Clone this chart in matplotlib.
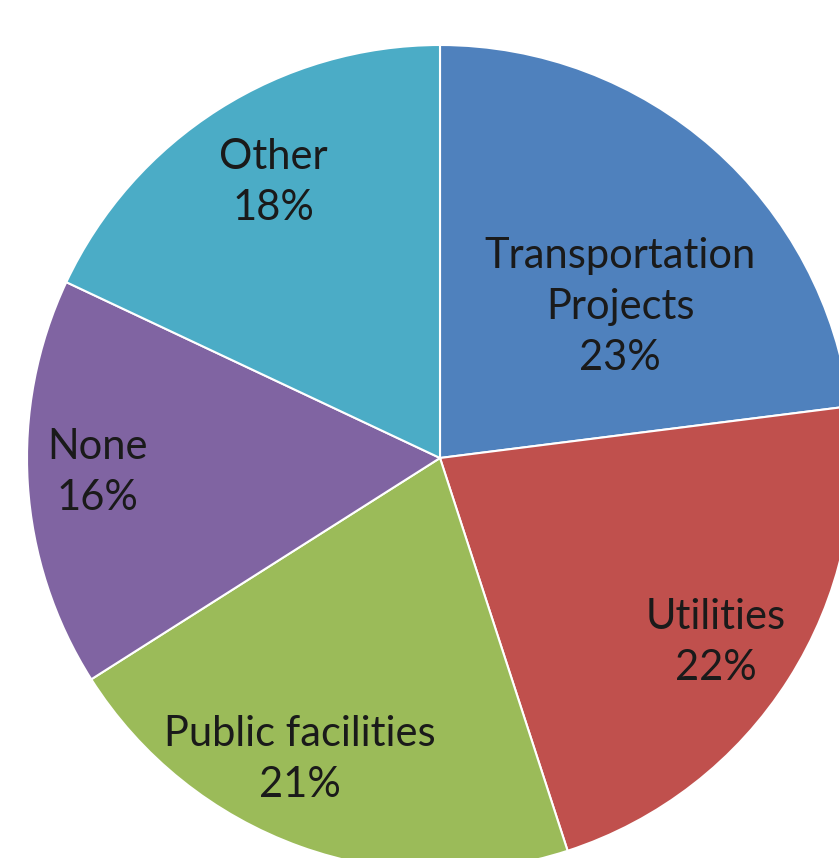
import matplotlib.pyplot as plt

categories = ["Transportation\nProjects", "Utilities", "Public facilities", "None", "Other"]
shares = [23, 22, 21, 16, 18]
colors = ["#4F81BD", "#C0504D", "#9BBB59", "#8064A2", "#4BACC6"]

# label centres, in pie radius units (Excel "best fit" placement)
label_pos = [(0.436, 0.366), (0.668, -0.446), (-0.339, -0.731), (-0.830, -0.034), (-0.404, 0.668)]

W, H = 839, 858
cx, cy, r = 440, 458, 413

fig = plt.figure(figsize=(W / 100, H / 100), dpi=100)
ax = fig.add_axes([0, 0, 1, 1])

wedges, _ = ax.pie(shares, colors=colors, startangle=90, counterclock=False,
                   radius=1, wedgeprops=dict(edgecolor="white", linewidth=1.5, alpha=1))

for name, val, (x, y) in zip(categories, shares, label_pos):
    ax.text(x, y, f"{name}\n{val}%", ha="center", va="center", fontsize=30,
            family="Lato", color="#1a1a1a", linespacing=1.42)

ax.set_xlim(-cx / r, (W - cx) / r)
ax.set_ylim(-(H - cy) / r, cy / r)
ax.set_aspect("auto")
ax.axis("off")

fig.savefig("out.png", dpi=100, facecolor="white")
